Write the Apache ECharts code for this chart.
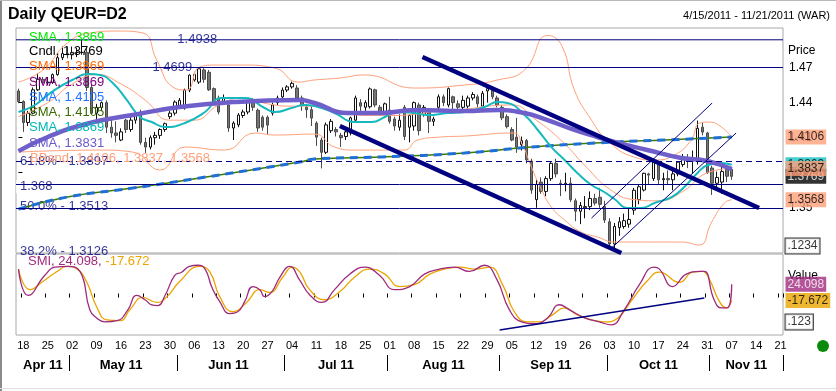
<!DOCTYPE html>
<html><head><meta charset="utf-8">
<script src="https://cdn.jsdelivr.net/npm/echarts@6/dist/echarts.min.js"></script>
<style>
html,body{margin:0;padding:0;background:#fff;}
#wrap{position:relative;width:836px;height:391px;overflow:hidden;background:#fff;}
#c{position:absolute;left:0;top:0;width:836px;height:391px;}
.bl{position:absolute;left:0;top:0;width:2px;height:391px;background:#8a8a8a;}
.bt{position:absolute;left:0;top:0;width:836px;height:1px;background:#b8b8b8;}
.bb{position:absolute;left:0;top:388px;width:836px;height:1px;background:#e0e0e0;}
</style></head>
<body><div id="wrap"><div id="c"></div><div class="bl"></div><div class="bt"></div><div class="bb"></div></div>
<script>
// ---------------- data ----------------
const open = [1.4500,1.4410,1.4230,1.4310,1.4510,1.4600,1.4570,1.4575,1.4640,1.4785,
1.4820,1.4810,1.4830,1.4830,1.4830,1.4530,1.4310,1.4360,1.4400,1.4190,
1.4140,1.4080,1.4250,1.4170,1.4250,1.4310,1.4060,1.4020,1.4100,1.4120,
1.4170,1.4280,1.4310,1.4370,1.4355,1.4508,1.4594,1.4576,1.4680,1.4660,
1.4520,1.4440,1.4410,1.4380,1.4183,1.4210,1.4290,1.4320,1.4400,1.4335,
1.4275,1.4275,1.4310,1.4400,1.4449,1.4508,1.4535,1.4525,1.4440,1.4360,
1.4340,1.4225,1.4080,1.3975,1.4160,1.4170,1.4120,1.4110,1.4140,1.4250,
1.4400,1.4360,1.4365,1.4510,1.4360,1.4300,1.4337,1.4260,1.4190,1.4360,
1.4190,1.4200,1.4380,1.4300,1.4330,1.4240,1.4360,1.4450,1.4380,1.4450,
1.4390,1.4360,1.4370,1.4440,1.4450,1.4370,1.4500,1.4510,1.4440,1.4360,
1.4280,1.4170,1.4105,1.4040,1.4075,1.3900,1.3570,1.3720,1.3640,1.3750,
1.3880,1.3710,1.3700,1.3710,1.3560,1.3470,1.3500,1.3510,1.3580,1.3590,
1.3510,1.3380,1.3190,1.3330,1.3340,1.3360,1.3480,1.3570,1.3652,1.3790,
1.3750,1.3870,1.3740,1.3750,1.3740,1.3790,1.3870,1.3920,1.3900,1.3900,
1.4190,1.4140,1.3840,1.3710,1.3720,1.3830,1.3830];
const high = [1.4520,1.4420,1.4330,1.4530,1.4650,1.4620,1.4620,1.4650,1.4800,1.4880,
1.4880,1.4880,1.4870,1.4939,1.4870,1.4560,1.4390,1.4410,1.4420,1.4250,
1.4240,1.4180,1.4260,1.4280,1.4330,1.4340,1.4100,1.4120,1.4150,1.4180,
1.4230,1.4330,1.4420,1.4440,1.4520,1.4650,1.4670,1.4699,1.4695,1.4680,
1.4530,1.4460,1.4470,1.4400,1.4240,1.4310,1.4340,1.4420,1.4440,1.4350,
1.4290,1.4290,1.4400,1.4460,1.4530,1.4550,1.4580,1.4550,1.4460,1.4390,
1.4370,1.4240,1.4100,1.4230,1.4260,1.4190,1.4140,1.4170,1.4280,1.4460,
1.4430,1.4420,1.4530,1.4520,1.4380,1.4400,1.4450,1.4280,1.4300,1.4380,
1.4300,1.4410,1.4400,1.4380,1.4350,1.4280,1.4470,1.4470,1.4530,1.4460,
1.4420,1.4460,1.4460,1.4490,1.4470,1.4500,1.4540,1.4540,1.4460,1.4380,
1.4300,1.4190,1.4270,1.4110,1.4090,1.3920,1.3740,1.3760,1.3770,1.3900,
1.3920,1.3740,1.3800,1.3760,1.3580,1.3550,1.3600,1.3640,1.3620,1.3670,
1.3560,1.3410,1.3370,1.3420,1.3450,1.3490,1.3670,1.3700,1.3800,1.3800,
1.3910,1.3900,1.3800,1.3820,1.3820,1.3900,1.3960,1.3960,1.3990,1.4247,
1.4230,1.4150,1.3860,1.3810,1.3870,1.3850,1.3850];
const low = [1.4395,1.4150,1.4200,1.4300,1.4500,1.4560,1.4550,1.4560,1.4630,1.4765,
1.4780,1.4770,1.4790,1.4810,1.4500,1.4300,1.4260,1.4330,1.4140,1.4100,
1.4060,1.4070,1.4140,1.4150,1.4220,1.4040,1.3970,1.4000,1.4040,1.4090,
1.4150,1.4260,1.4290,1.4350,1.4340,1.4490,1.4580,1.4560,1.4570,1.4500,
1.4380,1.4300,1.4380,1.4150,1.4080,1.4190,1.4270,1.4300,1.4330,1.4150,
1.4160,1.4123,1.4290,1.4380,1.4430,1.4490,1.4520,1.4420,1.4330,1.4270,
1.4200,1.4030,1.3837,1.3960,1.4140,1.4110,1.4020,1.4080,1.4120,1.4230,
1.4320,1.4330,1.4350,1.4360,1.4290,1.4270,1.4220,1.4160,1.4160,1.4080,
1.4060,1.4160,1.4120,1.4280,1.4140,1.4200,1.4330,1.4370,1.4360,1.4330,
1.4330,1.4340,1.4350,1.4420,1.4360,1.4350,1.4400,1.4430,1.4360,1.4250,
1.4180,1.4070,1.3970,1.3990,1.3880,1.3620,1.3500,1.3620,1.3600,1.3730,
1.3760,1.3600,1.3640,1.3550,1.3385,1.3360,1.3410,1.3480,1.3520,1.3500,
1.3370,1.3170,1.3146,1.3260,1.3320,1.3330,1.3440,1.3530,1.3640,1.3700,
1.3730,1.3700,1.3650,1.3700,1.3650,1.3770,1.3850,1.3840,1.3790,1.3870,
1.4120,1.3790,1.3610,1.3660,1.3620,1.3720,1.3740];
const close = [1.4410,1.4230,1.4310,1.4510,1.4600,1.4570,1.4575,1.4640,1.4785,1.4820,
1.4810,1.4830,1.4830,1.4830,1.4530,1.4310,1.4360,1.4400,1.4190,1.4140,
1.4120,1.4150,1.4170,1.4250,1.4300,1.4060,1.4020,1.4100,1.4120,1.4170,
1.4220,1.4310,1.4405,1.4420,1.4508,1.4636,1.4650,1.4690,1.4600,1.4510,
1.4395,1.4320,1.4440,1.4183,1.4225,1.4294,1.4320,1.4405,1.4360,1.4183,
1.4190,1.4208,1.4380,1.4440,1.4508,1.4535,1.4565,1.4440,1.4380,1.4340,
1.4268,1.4105,1.3975,1.4210,1.4240,1.4150,1.4100,1.4150,1.4270,1.4440,
1.4370,1.4400,1.4517,1.4380,1.4300,1.4390,1.4240,1.4200,1.4250,1.4110,
1.4290,1.4400,1.4160,1.4360,1.4240,1.4260,1.4450,1.4400,1.4520,1.4400,
1.4360,1.4420,1.4440,1.4470,1.4390,1.4480,1.4520,1.4450,1.4380,1.4270,
1.4195,1.4080,1.4020,1.4075,1.3910,1.3652,1.3700,1.3640,1.3750,1.3880,
1.3790,1.3700,1.3710,1.3570,1.3470,1.3520,1.3510,1.3580,1.3540,1.3530,
1.3395,1.3190,1.3340,1.3380,1.3390,1.3400,1.3650,1.3680,1.3795,1.3780,
1.3890,1.3740,1.3750,1.3740,1.3790,1.3890,1.3930,1.3900,1.3930,1.4180,
1.4148,1.3800,1.3710,1.3760,1.3810,1.3770,1.3769];

// indicator lines: [day index, value]
const smaCyan = [[0,1.4320],[3.4,1.4380],[6.5,1.4482],[11,1.4594],[14.6,1.4645],[16.7,1.4637],[19.3,1.4568],[22.2,1.4422],[24.9,1.4277],[27.3,1.4234],[30,1.4191],[34.1,1.4226],[38.2,1.4320],[41.6,1.4440],[46.3,1.4440],[50.4,1.4354],[52.5,1.4320],[55.9,1.4354],[58.6,1.4380],[60.6,1.4371],[64.7,1.4311],[68.8,1.4234],[72.3,1.4234],[75,1.4277],[77,1.4320],[81.1,1.4311],[83.7,1.4294],[87.8,1.4311],[91.3,1.4320],[95.4,1.4363],[98.1,1.4405],[100.1,1.4397],[103.6,1.4294],[106.3,1.4166],[109.1,1.4020],[111.8,1.3909],[114.4,1.3798],[117.3,1.3695],[119.9,1.3635],[122,1.3575],[124.7,1.3498],[127.5,1.3498],[130.2,1.3541],[133.7,1.3592],[136.3,1.3678],[139,1.3798],[141.1,1.3866],[143.9,1.3883],[146,1.3869]];
const smaPurple = [[0,1.3985],[6,1.4106],[14.6,1.4226],[23.4,1.4294],[33,1.4363],[43.9,1.4405],[57.6,1.4422],[60.6,1.4397],[67.4,1.4311],[74.3,1.4311],[81.1,1.4337],[91.3,1.4328],[98.1,1.4337],[103.6,1.4311],[108.3,1.4251],[113.8,1.4166],[118.5,1.4106],[122,1.4063],[128.7,1.3995],[135.7,1.3926],[141,1.3900],[146,1.3831]];
const sma200 = [[0,1.3488],[10,1.3592],[23.4,1.3669],[37.1,1.3755],[57.6,1.3892],[60.6,1.3918],[74.3,1.3935],[91.3,1.3969],[105,1.4020],[122,1.4063],[132.2,1.4080],[146,1.4105]];
const bbUpper = [[0,1.4576],[5,1.4679],[10,1.4910],[14.6,1.4996],[20.2,1.5013],[25.5,1.4996],[28.3,1.4765],[31.6,1.4534],[34.4,1.4508],[37.1,1.4705],[40.6,1.4722],[45.7,1.4722],[52.5,1.4696],[57.2,1.4576],[60.6,1.4594],[65.8,1.4611],[70.9,1.4637],[81.1,1.4525],[91.3,1.4551],[98.1,1.4594],[103.6,1.4679],[108.3,1.4975],[111.2,1.4889],[113.8,1.4508],[117.3,1.4250],[120.5,1.4080],[126,1.3934],[130.2,1.3909],[134.3,1.3952],[137.7,1.4080],[139.4,1.4225],[141.4,1.4233],[143.9,1.4191],[146,1.4106]];
const bbMiddle = [[0,1.4280],[6,1.4400],[11,1.4560],[16,1.4640],[21,1.4560],[26,1.4420],[31,1.4250],[36,1.4250],[41,1.4380],[46,1.4440],[51,1.4390],[56,1.4370],[61,1.4370],[66,1.4330],[71,1.4290],[76,1.4290],[81,1.4300],[86,1.4330],[91,1.4340],[96,1.4370],[101,1.4380],[106,1.4250],[111,1.4080],[116,1.3860],[121,1.3660],[126,1.3570],[131,1.3560],[136,1.3640],[141,1.3800],[146,1.3837]];
const bbLower = [[0,1.3977],[16.7,1.3994],[23.4,1.3977],[29,1.3823],[34.1,1.4020],[42.2,1.3994],[48.4,1.4140],[52.5,1.4123],[60.6,1.4131],[64.7,1.4020],[68.8,1.3994],[79,1.3994],[81.7,1.4080],[86.6,1.4106],[91.3,1.4114],[101.5,1.4140],[103,1.4054],[105,1.3849],[107.1,1.3652],[109.1,1.3506],[111.8,1.3395],[115.2,1.3292],[118.5,1.3250],[122,1.3207],[128.7,1.3207],[135.7,1.3207],[139.4,1.3181],[141.8,1.3370],[144.5,1.3541],[146,1.3568]];
const smiMain = [[0,63],[2,-5],[5.4,47],[7.5,68],[10,70],[12.6,57],[14.6,-42],[16,-63],[17.7,-73],[20.2,-70],[22.4,-42],[24.2,-5],[25.9,-16],[27.3,-29],[28.5,-31],[30,-5],[32,47],[33.4,55],[35,70],[36.7,73],[38.2,63],[39.6,16],[41.2,-21],[43.3,-52],[44.9,-47],[46.3,-21],[48,18],[49.4,10],[50.4,-8],[51.9,5],[53.5,42],[55.5,70],[57.6,34],[59.6,-3],[62.1,-23],[64.7,10],[67.8,50],[70.9,68],[73.9,47],[77,10],[80.1,18],[83.1,50],[86.2,63],[89.3,68],[92.3,57],[95.4,73],[97.9,37],[100.5,-42],[103,-73],[105.6,-78],[108.3,-63],[110.7,-29],[112.8,-42],[115.9,-63],[118.9,-73],[121.3,-81],[124,-42],[127.1,23],[130.1,68],[131.2,63],[133.9,18],[136.7,50],[139.4,57],[140.4,57],[142.4,-16],[143.9,-37],[145.1,-37],[146,24.098]];
const smiSignal = [[0,63],[2.4,10],[5,31],[7.9,57],[9.9,70],[12,63],[14,29],[16,-34],[18.1,-68],[20.8,-70],[22.8,-42],[25.5,-10],[28.3,-23],[30.4,-8],[33,31],[37.1,70],[39.2,55],[41.2,-8],[43.9,-47],[46.7,-23],[49.4,10],[51.4,3],[54.1,42],[56.1,68],[57.6,55],[59.6,10],[62.7,-16],[65.8,5],[68.8,42],[71.9,63],[75,50],[78,18],[81.1,23],[84.2,50],[87.2,63],[90.3,68],[93.4,63],[96.4,68],[99.1,23],[101.5,-47],[104.2,-73],[106.6,-73],[109.3,-55],[111.8,-37],[114.4,-55],[117.3,-68],[120,-73],[122.7,-63],[125.6,-16],[128.6,31],[131.2,55],[135.3,29],[138,55],[140,57],[141.4,37],[143.5,-21],[144.9,-37],[146,-17.672]];
// trend lines: [[day, price],[day, price]]
const trendUpper = [[82.7,1.4791],[151.6,1.3498]];
const trendLower = [[65.8,1.4200],[123.4,1.3113]];
const channelA = [[117.3,1.3412],[142.0,1.4397]];
const channelB = [[121.4,1.3155],[146.9,1.4140]];
const smiTrend = [[98.5,-94],[140.4,-11.5]];
// horizontal levels
const levelValues = [1.4938, 1.4699, 1.3897, 1.368, 1.3513, 1.3126];
const levelDashed = [false, false, true, false, false, true];
const levelText = ['1.4938', '1.4699', '61.8% - 1.3897', '1.368', '50.0% - 1.3513', '38.2% - 1.3126'];
const levelLabelDay = [36.6, 31.5, -0.5, -0.5, -0.5, -0.5];
const priceTicks = [1.35, 1.38, 1.41, 1.44, 1.47];
// right-hand value boxes
const priceBoxValues = [1.3869, 1.3769, 1.3837, 1.4106, 1.3568, 1.3172];
const priceBoxText = ['1.3869', '1.3769', '1.3837', '1.4106', '1.3568', '.1234'];
const smiBoxValues = [-73.4, -17.672, 24.098];
const smiBoxText = ['.123', '-17.672', '24.098'];
const legendNames = ['SMA, 1.3869','Cndl, 1.3769','SMA, 1.3869','SMA, 1.3869','SMA, 1.4105','SMA, 1.4105','SMA, 1.3869','SMA, 1.3831','BBand, 1.4106, 1.3837, 1.3568'];
const legendColors = ['#00ee00','#000000','#ff6a00','#800080','#1e73ff','#3a6a00','#00b8b8','#6a5acd','#ffa07a'];

// categories: weekdays 4/15/2011 - 11/21/2011
const dates = [];
for (let t = Date.UTC(2011,3,15); t <= Date.UTC(2011,10,21); t += 86400000) {
  const d = new Date(t); const wd = d.getUTCDay();
  if (wd !== 0 && wd !== 6) dates.push(d);
}
const cats = dates.map(d => d.toISOString().slice(0,10));
const isMon = i => dates[i].getUTCDay() === 1;
const monthFirst = i => i > 0 && dates[i].getUTCMonth() !== dates[i-1].getUTCMonth();
const monthMid = {};
(function(){ let s = 0; for (let i = 1; i <= dates.length; i++) { if (i === dates.length || dates[i].getUTCMonth() !== dates[i-1].getUTCMonth()) { monthMid[Math.floor((s + i - 1) / 2)] = true; s = i; } } })();
const MN = ['Jan','Feb','Mar','Apr','May','Jun','Jul','Aug','Sep','Oct','Nov','Dec'];

const candles = open.map((o, i) => [o, close[i], low[i], high[i]]);
const NAVY = '#000080';
const FONT = 'Liberation Sans, Arial, sans-serif';
const X0 = -0.5, X1 = dates.length - 0.5;

function lineS(data, color, width, extra) {
  return Object.assign({ type: 'line', xAxisIndex: 1, yAxisIndex: 0, data: data, symbol: 'none', smooth: true,
    lineStyle: { color: color, width: width }, silent: true, animation: false }, extra || {});
}
const boxStyles = {
  '1.3869': ['#16c0c6', '#000'], '1.3769': ['#000000', '#fff'], '1.3837': ['#ffa07a', '#000'],
  '1.4106': ['#ffa07a', '#000'], '1.3568': ['#ffa07a', '#000'], '.1234': ['#ffffff', '#000', '#000'],
  '.123': ['#ffffff', '#000', '#000'], '-17.672': ['#e8a400', '#000'], '24.098': ['#a02a7e', '#fff']
};
function boxSeries(values, texts, xi, yi) {
  return { type: 'scatter', xAxisIndex: xi, yAxisIndex: yi, symbolSize: 1, clip: false, animation: false, silent: true, z: 30,
    itemStyle: { color: 'rgba(0,0,0,0)' },
    data: values.map((v, k) => {
      const st = boxStyles[texts[k]];
      return { value: [X1, v], label: { show: true, position: 'right', distance: 2, formatter: texts[k],
        backgroundColor: st[0], color: st[1], borderColor: st[2] || st[0], borderWidth: st[2] ? 1 : 0,
        fontFamily: FONT, fontSize: 12, padding: [2, 2, 1, 2] } };
    }) };
}

const chart = echarts.init(document.getElementById('c'), null, { renderer: 'canvas' });
const series = [
  { type: 'candlestick', xAxisIndex: 0, yAxisIndex: 0, data: candles, barWidth: 3, animation: false,
    itemStyle: { color: '#ffffff', color0: '#767676', borderColor: '#111111', borderColor0: '#4a4a4a', borderWidth: 1 } },
  lineS(bbUpper, '#ffa07a', 1), lineS(bbMiddle, '#ffa07a', 1), lineS(bbLower, '#ffa07a', 1),
  lineS(sma200, '#3d7a00', 1.5),
  lineS(sma200, '#1f6fd6', 3, { lineStyle: { color: '#1f6fd6', width: 3, type: [8, 6] } }),
  lineS(smaCyan, '#16b9bd', 2),
  lineS(smaPurple, '#6f5fcb', 4.5),
  { type: 'line', xAxisIndex: 1, yAxisIndex: 0, data: [[X0, levelValues[0]], [X1, levelValues[0]]], symbol: 'none',
    lineStyle: { color: NAVY, width: 1 }, animation: false, silent: true,
    markLine: { symbol: ['none','none'], silent: true, animation: false, label: { show: false },
      data: levelValues.slice(1).map((v, k) => ({ yAxis: v, lineStyle: { color: NAVY, width: 1, type: levelDashed[k+1] ? [6, 4] : 'solid' } })) } },
  lineS(trendUpper, NAVY, 4.5, { smooth: false }),
  lineS(trendLower, NAVY, 4.5, { smooth: false }),
  lineS(channelA, NAVY, 1, { smooth: false }),
  lineS(channelB, NAVY, 1, { smooth: false }),
  { type: 'scatter', xAxisIndex: 1, yAxisIndex: 0, symbolSize: 0, animation: false, silent: true,
    data: levelValues.map((v, k) => ({ value: [levelLabelDay[k], v], label: {
      show: true, formatter: levelText[k], position: levelLabelDay[k] < 0 ? 'right' : 'inside', distance: 0,
      color: NAVY, fontFamily: FONT, fontSize: 13,
      backgroundColor: (k < 2 || k === 3) ? '#ffffff' : 'transparent', padding: [0, 4, 0, 4] } })) },
  boxSeries(priceBoxValues, priceBoxText, 1, 0),
  { type: 'line', xAxisIndex: 4, yAxisIndex: 1, data: smiSignal, symbol: 'none', smooth: true, animation: false, silent: true,
    lineStyle: { color: '#eca400', width: 1.3 } },
  { type: 'line', xAxisIndex: 4, yAxisIndex: 1, data: smiMain, symbol: 'none', smooth: true, animation: false, silent: true,
    lineStyle: { color: '#9d2a7c', width: 1.3 } },
  { type: 'line', xAxisIndex: 4, yAxisIndex: 1, data: smiTrend, symbol: 'none', animation: false, silent: true,
    lineStyle: { color: NAVY, width: 1.5 } },
  boxSeries(smiBoxValues, smiBoxText, 4, 1)
];

const graphics = [
  { type: 'text', left: 8, top: 7, style: { text: 'Daily QEUR=D2', font: 'bold 16px ' + FONT, fill: '#000' } },
  { type: 'text', right: 6, top: 10, style: { text: '4/15/2011 - 11/21/2011 (WAR)', font: '11px ' + FONT, fill: '#000' } },
  { type: 'text', left: 788, top: 45, style: { text: 'Price', font: '12px ' + FONT, fill: '#000' } },
  { type: 'text', left: 788, top: 270, style: { text: 'Value', font: '12px ' + FONT, fill: '#000' } },
  { type: 'circle', shape: { cx: 823, cy: 346, r: 6 }, style: { fill: '#0a8a0a' } },
  { type: 'text', left: 28, top: 255, style: { rich: { a: { fill: '#a02a7e', font: '13px ' + FONT }, b: { fill: '#eca400', font: '13px ' + FONT } },
      text: '{a|SMI, 24.098, }{b|-17.672}' } }
];
const legendY = [39, 53, 68, 84, 99, 114, 129, 145, 160];
legendNames.forEach((n, k) => graphics.push({ type: 'text', left: k === 8 ? 30 : 29, top: legendY[k] - 8, z: 100,
  style: { text: n, font: '13px ' + FONT, fill: legendColors[k] } }));

chart.setOption({
  animation: false,
  backgroundColor: '#ffffff',
  grid: [
    { left: 16, right: 53, top: 28, height: 225, show: true, borderColor: '#a8a8a8', borderWidth: 1, backgroundColor: 'transparent' },
    { left: 16, right: 53, top: 254, height: 81, show: true, borderColor: '#a8a8a8', borderWidth: 1, backgroundColor: 'transparent' }
  ],
  xAxis: [
    { type: 'category', gridIndex: 0, data: cats, boundaryGap: true, axisLine: { show: false }, axisTick: { show: false }, axisLabel: { show: false } },
    { type: 'value', gridIndex: 0, min: X0, max: X1, show: false },
    { type: 'category', gridIndex: 1, position: 'bottom', data: cats, boundaryGap: true, axisLine: { show: false },
      axisTick: { show: true, interval: (i) => isMon(i), length: 4, lineStyle: { color: '#000' } },
      axisLabel: { show: true, interval: (i) => isMon(i), margin: 5, color: '#000', fontFamily: FONT, fontSize: 11,
        formatter: (v) => v.slice(8, 10) } },
    { type: 'category', gridIndex: 1, position: 'bottom', data: cats, boundaryGap: true, offset: 20, axisLine: { show: false },
      axisTick: { show: true, interval: (i) => monthFirst(i), length: 16, lineStyle: { color: '#000', width: 1 } },
      axisLabel: { show: true, interval: (i) => !!monthMid[i], margin: 4, color: '#000', fontFamily: FONT, fontSize: 13, fontWeight: 'bold',
        formatter: (v) => MN[+v.slice(5, 7) - 1] + ' 11' } },
    { type: 'value', gridIndex: 1, min: X0, max: X1, show: false }
  ],
  yAxis: [
    { type: 'value', gridIndex: 0, position: 'right', min: 1.3113, max: 1.5039, splitLine: { show: false },
      axisLine: { show: false },
      axisTick: { show: true, customValues: priceTicks, length: 4, lineStyle: { color: '#000' } },
      axisLabel: { show: true, customValues: priceTicks, margin: 6, color: '#000', fontFamily: FONT, fontSize: 12,
        formatter: (v) => v.toFixed(2) } },
    { type: 'value', gridIndex: 1, position: 'right', min: -107, max: 102, splitLine: { show: false },
      axisLine: { show: false }, axisTick: { show: false }, axisLabel: { show: false } }
  ],
  series: series,
  graphic: graphics
});
</script></body></html>
